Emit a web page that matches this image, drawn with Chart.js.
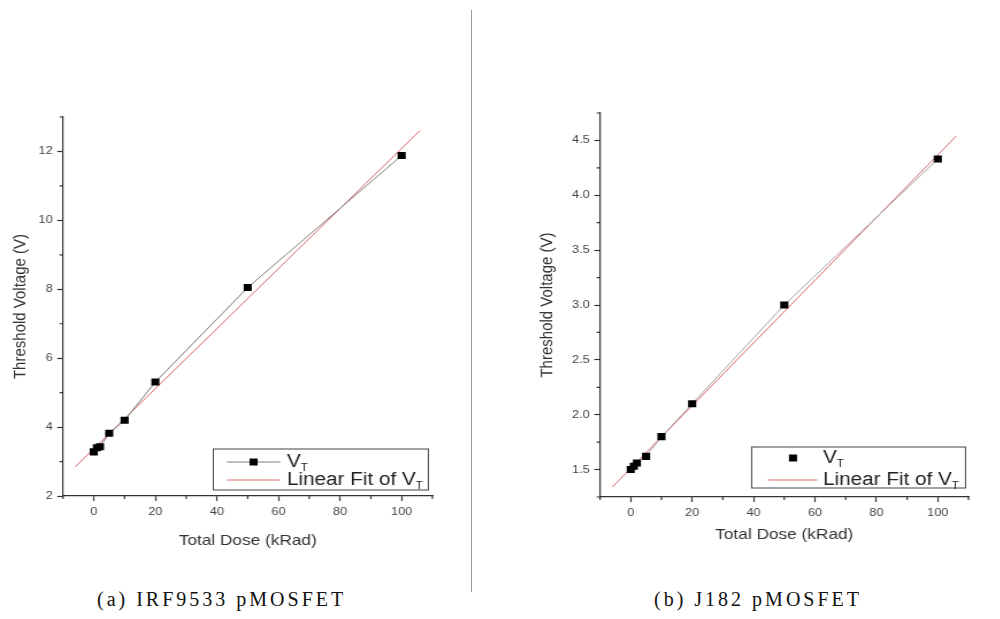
<!DOCTYPE html>
<html>
<head>
<meta charset="utf-8">
<script src="https://cdn.jsdelivr.net/npm/chart.js@4"></script>
<style>
  html, body { margin: 0; padding: 0; background: #fff; }
  body { width: 1000px; height: 619px; position: relative; overflow: hidden; }
  canvas.fig { position: absolute; transform: scaleX(1.15); transform-origin: 0 0; }
  .caption {
    position: absolute; top: 589px; line-height: 20px; font-size: 20px;
    font-family: "Liberation Serif", "Times New Roman", serif; letter-spacing: 3px; color: #111;
  }
  #divider { position: absolute; left: 471px; top: 10px; width: 1px; height: 582px; background: #9a9a9a; }
</style>
</head>
<body>
<canvas id="chart-irf" class="fig" width="384" height="450" style="left:0;top:100px"></canvas>
<canvas id="chart-j182" class="fig" width="398" height="444" style="left:520px;top:100px"></canvas>
<div id="divider"></div>
<div class="caption" style="left:97px">(a) IRF9533 pMOSFET</div>
<div class="caption" style="left:654px">(b) J182 pMOSFET</div>
<script>
// dose steps (kRad), same for both parts
const doseIrf = [0, 1, 2, 5, 10, 20, 50, 100];
const vtIrf = [3.28, 3.40, 3.43, 3.82, 4.20, 5.31, 8.05, 11.88];
const fitDoseIrf = [-6, 106];
const fitVtIrf = [2.85, 12.61];

const doseJ182 = [0, 1, 2, 5, 10, 20, 50, 100];
const vtJ182 = [1.50, 1.53, 1.56, 1.62, 1.80, 2.10, 3.00, 4.33];
const fitDoseJ182 = [-6, 106];
const fitVtJ182 = [1.34, 4.54];

const doseTicks = [0, 20, 40, 60, 80, 100];
const doseMinor = [-10, 10, 30, 50, 70, 90, 110];
const vtTicksIrf = [2, 4, 6, 8, 10, 12];
const vtMinorIrf = [3, 5, 7, 9, 11, 13];
const vtTicksJ182 = [1.5, 2.0, 2.5, 3.0, 3.5, 4.0, 4.5];
const vtMinorJ182 = [1.25, 1.75, 2.25, 2.75, 3.25, 3.75, 4.25, 4.75];

const FONT = '"Liberation Sans", Arial, sans-serif';
const AXIS = '#333';
const FIT_RED = 'rgba(215, 80, 80, 0.85)';

const pts = (xs, ys) => xs.map((x, i) => ({ x, y: ys[i] }));

// small outward minor ticks on the left and bottom axes
const minorTicks = {
  id: 'minorTicks',
  afterDraw(chart, args, opts) {
    const { ctx } = chart;
    const xs = chart.scales.x, ys = chart.scales.y;
    ctx.save();
    ctx.strokeStyle = AXIS;
    ctx.lineWidth = 1.2;
    ctx.beginPath();
    opts.x.forEach(v => {
      const px = xs.getPixelForValue(v);
      ctx.moveTo(px, xs.top);
      ctx.lineTo(px, xs.top + 3);
    });
    opts.y.forEach(v => {
      const py = ys.getPixelForValue(v);
      ctx.moveTo(ys.right, py);
      ctx.lineTo(ys.right - 3, py);
    });
    ctx.stroke();
    ctx.restore();
  }
};

// boxed legend inside the plot, lower right, with subscript T
const boxLegend = {
  id: 'boxLegend',
  afterDraw(chart, args, opts) {
    const { ctx, chartArea } = chart;
    const bx = chartArea.right - opts.right - opts.width;
    const by = chartArea.bottom - opts.bottom - opts.height;
    ctx.save();
    ctx.fillStyle = '#fff';
    ctx.fillRect(bx, by, opts.width, opts.height);
    ctx.strokeStyle = '#444';
    ctx.lineWidth = 1;
    ctx.strokeRect(bx, by, opts.width, opts.height);

    const drawLabel = (text, x, y) => {
      ctx.fillStyle = '#222';
      ctx.textBaseline = 'middle';
      ctx.textAlign = 'left';
      ctx.font = '18px ' + FONT;
      ctx.fillText(text, x, y);
      const w = ctx.measureText(text).width;
      ctx.font = '10px ' + FONT;
      ctx.fillText('T', x + w, y + 6);
    };

    // row 1: data
    const ds = chart.data.datasets[0];
    const y1 = by + opts.row1;
    if (opts.dataLine) {
      ctx.strokeStyle = ds.borderColor;
      ctx.lineWidth = 1;
      ctx.beginPath();
      ctx.moveTo(bx + opts.lineFrom, y1);
      ctx.lineTo(bx + opts.lineTo, y1);
      ctx.stroke();
    }
    ctx.fillStyle = '#000';
    ctx.fillRect(bx + opts.marker - 3.5, y1 - 3.5, 7, 7);
    drawLabel('V', bx + opts.textX, y1);

    // row 2: linear fit
    const y2 = by + opts.row2;
    ctx.strokeStyle = FIT_RED;
    ctx.lineWidth = 1;
    ctx.beginPath();
    ctx.moveTo(bx + opts.fitFrom, y2);
    ctx.lineTo(bx + opts.fitTo, y2);
    ctx.stroke();
    drawLabel('Linear Fit of V', bx + opts.textX, y2);
    ctx.restore();
  }
};

function makeChart(id, cfg) {
  const canvas = document.getElementById(id);
  return new Chart(canvas, {
    type: 'scatter',
    data: {
      datasets: [{
        label: 'VT',
        data: pts(cfg.dose, cfg.vt),
        showLine: true,
        borderColor: cfg.lineColor,
        borderWidth: 1,
        pointStyle: 'rect',
        pointRadius: 5,
        pointBackgroundColor: '#000',
        pointBorderWidth: 0,
        order: 0,
      }, {
        label: 'Linear Fit of VT',
        data: pts(cfg.fitDose, cfg.fitVt),
        showLine: true,
        borderColor: FIT_RED,
        borderWidth: 1,
        pointRadius: 0,
        order: 1,
      }],
    },
    options: {
      responsive: false,
      animation: false,
      devicePixelRatio: 1,
      layout: { padding: cfg.padding },
      plugins: {
        legend: { display: false },
        tooltip: { enabled: false },
        minorTicks: { x: doseMinor, y: cfg.vtMinor },
        boxLegend: cfg.legend,
      },
      scales: {
        x: {
          type: 'linear',
          min: -10,
          max: 110,
          afterBuildTicks: s => { s.ticks = doseTicks.map(v => ({ value: v })); },
          afterFit: s => { s.height = cfg.xHeight; s.paddingLeft = 0; s.paddingRight = 0; },
          border: { display: true, color: AXIS, width: 1.2 },
          grid: { display: true, drawOnChartArea: false, drawTicks: true, tickLength: 5, tickColor: AXIS, tickWidth: 1.2 },
          ticks: { color: '#444', padding: 4, font: { family: FONT, size: 11 }, maxRotation: 0, callback: v => String(v) },
          title: { display: true, text: 'Total Dose (kRad)', color: '#333', padding: 0, font: { family: FONT, size: 15 } },
        },
        y: {
          type: 'linear',
          min: cfg.yMin,
          max: cfg.yMax,
          afterBuildTicks: s => { s.ticks = cfg.vtTicks.map(v => ({ value: v })); },
          afterFit: s => { s.width = cfg.yWidth; s.paddingTop = 0; s.paddingBottom = 0; },
          border: { display: true, color: AXIS, width: 1.2 },
          grid: { display: true, drawOnChartArea: false, drawTicks: true, tickLength: 5, tickColor: AXIS, tickWidth: 1.2 },
          ticks: { color: '#444', padding: 4, font: { family: FONT, size: 11 }, callback: cfg.yFmt },
          title: { display: true, text: 'Threshold Voltage (V)', color: '#333', padding: 0, font: { family: FONT, size: 15 } },
        },
      },
    },
    plugins: [minorTicks, boxLegend],
  });
}

makeChart('chart-irf', {
  dose: doseIrf, vt: vtIrf, fitDose: fitDoseIrf, fitVt: fitVtIrf,
  lineColor: '#7a7a7a',
  yMin: 2, yMax: 13, vtTicks: vtTicksIrf, vtMinor: vtMinorIrf,
  yFmt: v => String(v),
  padding: { left: 9, top: 17, right: 8, bottom: 0 },
  yWidth: 45.8, xHeight: 54,
  legend: { right: 3.5, bottom: 6, width: 187, height: 41, row1: 13, row2: 31,
            dataLine: true, lineFrom: 12, lineTo: 58, marker: 35, fitFrom: 12, fitTo: 58, textX: 64 },
});

makeChart('chart-j182', {
  dose: doseJ182, vt: vtJ182, fitDose: fitDoseJ182, fitVt: fitVtJ182,
  lineColor: '#a8a8a8',
  yMin: 1.25, yMax: 4.75, vtTicks: vtTicksJ182, vtMinor: vtMinorJ182,
  yFmt: v => v.toFixed(1),
  padding: { left: 15, top: 13, right: 8, bottom: 0 },
  yWidth: 54.6, xHeight: 47,
  legend: { right: 2.6, bottom: 9, width: 186, height: 41, row1: 11, row2: 33,
            dataLine: false, marker: 36, fitFrom: 14, fitTo: 57, textX: 62 },
});
</script>
</body>
</html>
